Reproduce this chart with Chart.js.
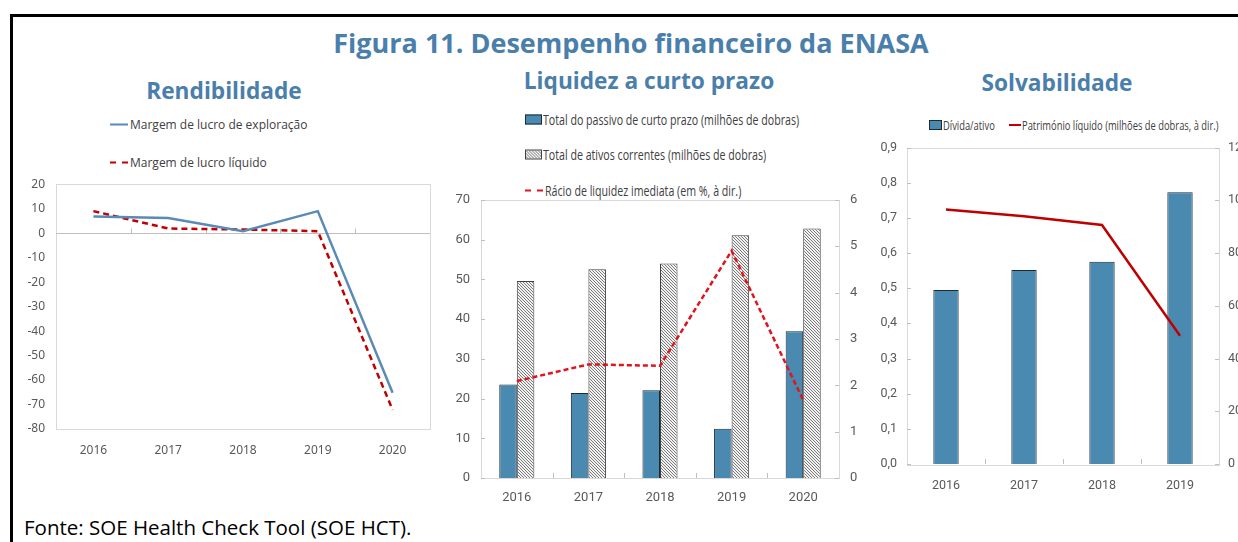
<!DOCTYPE html>
<html>
<head>
<meta charset="utf-8">
<script src="https://cdn.jsdelivr.net/npm/chart.js@4.4.1/dist/chart.umd.min.js"></script>
<style>
  html,body{margin:0;padding:0;background:#fff;}
  body{width:1238px;height:542px;overflow:hidden;position:relative;font-family:"Open Sans","Noto Sans",sans-serif;}
  .frame{position:absolute;left:10px;top:14px;width:1400px;height:600px;border-top:3px solid #000;border-left:3px solid #000;}
  .abs{position:absolute;white-space:nowrap;}
  .title{color:#4a7eab;font-weight:700;transform:translate(-50%,-50%);}
  canvas{position:absolute;}
  .leg{position:absolute;white-space:nowrap;color:#404040;display:flex;align-items:center;transform:translateY(-50%);}
  .cond{display:inline-block;transform-origin:0 50%;}
  .sw-line{display:inline-block;width:18px;height:0;border-top:2.5px solid;margin-right:2px;flex:none;}
  .sw-box{display:inline-block;width:17px;height:10px;border:1px solid #1b2a38;box-sizing:border-box;margin-right:1px;flex:none;}
</style>
</head>
<body>
<div class="frame"></div>
<div class="abs title" style="left:631px;top:42px;font-size:27px;">Figura 11. Desempenho financeiro da ENASA</div>
<div class="abs title" style="left:224px;top:90px;font-size:22.7px;">Rendibilidade</div>
<div class="abs title" style="left:649px;top:80px;font-size:22.7px;">Liquidez a curto prazo</div>
<div class="abs title" style="left:1057px;top:82px;font-size:22.7px;">Solvabilidade</div>

<div class="leg" style="left:110px;top:124px;font-size:12px;"><span class="sw-line" style="border-color:#5a8ab5"></span>Margem de lucro de exploração</div>
<div class="leg" style="left:110px;top:162px;font-size:12px;"><span class="sw-line" style="border-top-style:dashed;border-color:#c00000"></span>Margem de lucro líquido</div>

<div class="leg" style="left:525px;top:119px;font-size:14px;"><span class="sw-box" style="background:#4a89b0"></span><span class="cond" style="transform:scaleX(0.76)">Total do passivo de curto prazo (milhões de dobras)</span></div>
<div class="leg" style="left:525px;top:154px;font-size:14px;"><span class="sw-box" id="hatchBox" style="border-color:#404040"></span><span class="cond" style="transform:scaleX(0.76)">Total de ativos correntes (milhões de dobras)</span></div>
<div class="leg" style="left:525px;top:190px;font-size:14px;"><span class="sw-line" style="border-top-style:dashed;border-color:#e0141e"></span><span class="cond" style="transform:scaleX(0.76)">Rácio de liquidez imediata (em %, à dir.)</span></div>

<div class="leg" style="left:929px;top:125px;font-size:13px;"><span class="sw-box" style="width:13px;background:#4a89b0"></span><span class="cond" style="transform:scaleX(0.72)">Dívida/ativo</span></div>
<div class="leg" style="left:1009px;top:125px;font-size:13px;"><span class="sw-line" style="border-color:#c00000;width:12px;margin-right:1px"></span><span class="cond" style="transform:scaleX(0.72)">Património líquido (milhões de dobras, à dir.)</span></div>

<canvas id="rend" width="440" height="299" style="left:0;top:166px;"></canvas>
<canvas id="liq" width="420" height="329" style="left:440px;top:181px;"></canvas>
<canvas id="solv" width="400" height="365" style="left:860px;top:130px;"></canvas>

<div class="abs" style="left:24px;top:527px;transform:translateY(-50%);font-size:20.5px;color:#000;">Fonte: SOE Health Check Tool (SOE HCT).</div>

<script>
const years5 = ['2016','2017','2018','2019','2020'];
const margemExploracao = [6.8, 6.2, 0.8, 9.0, -65.2];
const margemLiquido = [9.0, 1.9, 1.5, 0.8, -72.2];

const passivoCurto = [23.5, 21.4, 22.1, 12.4, 36.9];
const ativosCorrentes = [49.6, 52.5, 54.0, 61.1, 62.8];
const racioLiquidez = [2.09, 2.45, 2.42, 4.9, 1.68];

const years4 = ['2016','2017','2018','2019'];
const dividaAtivo = [0.495, 0.552, 0.575, 0.773];
const patrimonioLiquido = [96.5, 93.9, 90.6, 48.6];

const TICK = '#595959';
const BLUE = '#4a89b0';

// fine diagonal hatch for the current assets bars
function hatch(){
  const c = document.createElement('canvas');
  c.width = 3; c.height = 3;
  const x = c.getContext('2d');
  x.fillStyle = '#f2f2f2'; x.fillRect(0,0,3,3);
  x.fillStyle = '#7a7a7a';
  for(let i=0;i<3;i++) x.fillRect(i,i,1,1);
  return c;
}
const hatchCanvas = hatch();
document.getElementById('hatchBox').style.background = 'url(' + hatchCanvas.toDataURL() + ')';

// grey box round the plot, inward tick marks, optional zero line
const framePlugin = {
  id:'frame',
  beforeDatasetsDraw(chart, args, opts){
    const {ctx, chartArea:a, scales} = chart;
    ctx.save();
    ctx.strokeStyle = '#d9d9d9';
    ctx.lineWidth = 1;
    ctx.strokeRect(Math.round(a.left)+0.5, Math.round(a.top)+0.5, Math.round(a.width), Math.round(a.height));
    ctx.strokeStyle = '#bfbfbf';
    ctx.beginPath();
    (opts.yAxes||[]).forEach(id=>{
      const s = scales[id];
      s.ticks.forEach((t,i)=>{
        const y = Math.round(s.getPixelForTick(i))+0.5;
        if(s.position==='left'){ ctx.moveTo(a.left,y); ctx.lineTo(a.left+4,y); }
        else { ctx.moveTo(a.right,y); ctx.lineTo(a.right-4,y); }
      });
    });
    const xs = scales.x;
    const base = opts.zeroAxis ? Math.round(scales[opts.zeroAxis].getPixelForValue(0))+0.5 : a.bottom;
    for(let i=1;i<xs.ticks.length;i++){
      const px = Math.round((xs.getPixelForTick(i-1)+xs.getPixelForTick(i))/2)+0.5;
      ctx.moveTo(px, base); ctx.lineTo(px, base-5);
    }
    if(opts.zeroAxis){ ctx.moveTo(a.left, base); ctx.lineTo(a.right, base); }
    ctx.stroke();
    ctx.restore();
  }
};

function fixW(w){ return s=>{ s.width = w; }; }
function fixH(h){ return s=>{ s.height = h; }; }

const baseOpts = {responsive:false, animation:false, events:[], layout:{padding:0}};
const noGrid = {display:false, drawTicks:false};

new Chart(document.getElementById('rend'), {
  type:'line',
  data:{labels:years5, datasets:[
    {label:'Margem de lucro de exploração', data:margemExploracao, borderColor:'#5a8ab5', borderWidth:2.5, pointRadius:0, tension:0},
    {label:'Margem de lucro líquido', data:margemLiquido, borderColor:'#c00000', borderWidth:2.5, borderDash:[6,4], pointRadius:0, tension:0}
  ]},
  options:Object.assign({}, baseOpts, {
    layout:{padding:{top:0, right:10}},
    plugins:{legend:{display:false}, tooltip:{enabled:false}, frame:{zeroAxis:'y'}},
    scales:{
      x:{offset:true, grid:noGrid, border:{display:false},
         ticks:{color:TICK, padding:14, font:{family:'Noto Sans', size:12}}, afterFit:fixH(36)},
      y:{min:-80, max:20, grid:noGrid, border:{display:false},
         ticks:{stepSize:10, color:TICK, padding:11, font:{family:'Noto Sans', size:12}}, afterFit:fixW(56)}
    }
  }),
  plugins:[framePlugin]
});

const narrow = (size)=>({family:'Roboto', size});

new Chart(document.getElementById('liq'), {
  type:'bar',
  data:{labels:years5, datasets:[
    {type:'line', label:'Rácio de liquidez imediata (em %, à dir.)', data:racioLiquidez, yAxisID:'y1', borderColor:'#e0141e', borderWidth:2.5, borderDash:[5,3], pointRadius:0, tension:0, order:0},
    {label:'Total do passivo de curto prazo (milhões de dobras)', data:passivoCurto, backgroundColor:BLUE, borderColor:'#1b2a38', borderWidth:1, categoryPercentage:0.49, barPercentage:1, order:1},
    {label:'Total de ativos correntes (milhões de dobras)', data:ativosCorrentes, backgroundColor:document.createElement('canvas').getContext('2d').createPattern(hatchCanvas,'repeat'), borderColor:'#404040', borderWidth:1, categoryPercentage:0.49, barPercentage:1, order:1}
  ]},
  options:Object.assign({}, baseOpts, {
    plugins:{legend:{display:false}, tooltip:{enabled:false}, frame:{yAxes:['y','y1']}},
    scales:{
      x:{grid:noGrid, border:{display:false},
         ticks:{color:TICK, padding:12, font:narrow(13)}, afterFit:fixH(32)},
      y:{position:'left', min:0, max:70, grid:noGrid, border:{display:false},
         ticks:{stepSize:10, color:TICK, padding:11, font:narrow(13)}, afterFit:fixW(41)},
      y1:{position:'right', min:0, max:6, grid:noGrid, border:{display:false},
         ticks:{stepSize:1, color:TICK, padding:11, font:narrow(13)}, afterFit:fixW(21)}
    }
  }),
  plugins:[framePlugin]
});

new Chart(document.getElementById('solv'), {
  type:'bar',
  data:{labels:years4, datasets:[
    {type:'line', label:'Património líquido (milhões de dobras, à dir.)', data:patrimonioLiquido, yAxisID:'y1', borderColor:'#c00000', borderWidth:2.5, pointRadius:0, tension:0, order:0},
    {label:'Dívida/ativo', data:dividaAtivo, backgroundColor:BLUE, borderColor:'#1b2a38', borderWidth:1, categoryPercentage:0.325, barPercentage:1, order:1}
  ]},
  options:Object.assign({}, baseOpts, {
    plugins:{legend:{display:false}, tooltip:{enabled:false}, frame:{yAxes:['y','y1']}},
    scales:{
      x:{grid:noGrid, border:{display:false},
         ticks:{color:TICK, padding:14, font:narrow(12.5)}, afterFit:fixH(31)},
      y:{position:'left', min:0, max:0.9, grid:noGrid, border:{display:false},
         ticks:{stepSize:0.1, color:TICK, padding:10, font:narrow(12.5), callback:v=>v.toFixed(1).replace('.',',')}, afterFit:fixW(47)},
      y1:{position:'right', min:0, max:120, grid:noGrid, border:{display:false},
         ticks:{stepSize:20, color:TICK, padding:9, font:narrow(12.5)}, afterFit:fixW(41)}
    }
  }),
  plugins:[framePlugin]
});
</script>
</body>
</html>
